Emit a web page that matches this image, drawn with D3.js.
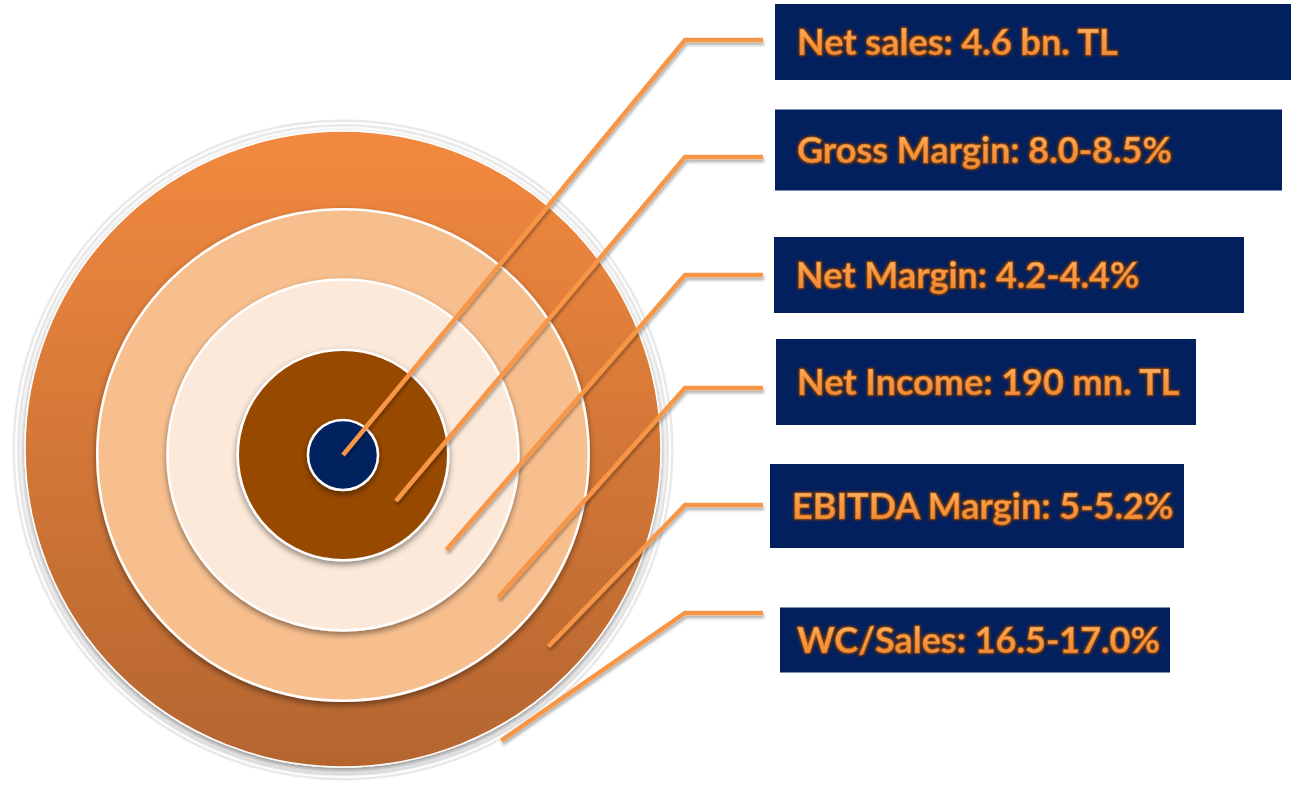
<!DOCTYPE html>
<html>
<head>
<meta charset="utf-8">
<script src="https://cdn.jsdelivr.net/npm/d3@7"></script>
<style>
  body { margin: 0; background: #ffffff; }
  svg { display: block; }
  .label { font-family: Lato, "Open Sans", sans-serif; font-weight: 700; }
</style>
</head>
<body>
<svg id="chart" width="1291" height="796"></svg>
<script>
// target data: one label per ring
const labels = [
    "Net sales: 4.6 bn. TL",
    "Gross Margin: 8.0-8.5%",
    "Net Margin: 4.2-4.4%",
    "Net Income: 190 mn. TL",
    "EBITDA Margin: 5-5.2%",
    "WC/Sales: 16.5-17.0%"
];
// ring levels, outermost first
const ringLevels = [4, 3, 2, 1, 0];
const ringColors = ["url(#outerGrad)", "#f8bf8e", "#fce9da", "#974806", "#02205e"];
// where each leader line starts (ring level) and its angle below horizontal (deg)
const anchorLevels = [-0.52, 0.5, 1.5, 2.5, 3.5, 4.15];
const anchorAngles = [41, 41, 42.5, 42.5, 43, 61];
// callout boxes: vertical centre, height, left, right
const boxCenter = [42, 150, 275, 382, 506, 640];
const boxHeight = [76, 81, 76, 86, 84, 65];
const boxLeft = [775, 775, 774, 776, 770, 780];
const boxRight = [1291, 1282, 1244, 1196, 1184, 1170];
const elbowY = [40, 157, 275, 388, 505, 613];

const svg = d3.select("#chart");
const defs = svg.append("defs");

let grad = defs.append("linearGradient").attr("id", "outerGrad")
    .attr("x1", 0).attr("y1", 0).attr("x2", 0).attr("y2", 1);
grad.append("stop").attr("offset", "0%").attr("stop-color", "#f2893f");
grad.append("stop").attr("offset", "100%").attr("stop-color", "#b4652f");

let tgrad = defs.append("linearGradient").attr("id", "textGrad")
    .attr("x1", 0).attr("y1", 0).attr("x2", 0).attr("y2", 1);
tgrad.append("stop").attr("offset", "0%").attr("stop-color", "#ffcf80");
tgrad.append("stop").attr("offset", "40%").attr("stop-color", "#f99c48");
tgrad.append("stop").attr("offset", "100%").attr("stop-color", "#ee8530");

let shadow = defs.append("filter").attr("id", "shadow")
    .attr("x", "-20%").attr("y", "-20%").attr("width", "140%").attr("height", "140%");
shadow.append("feDropShadow").attr("dx", 0).attr("dy", 3).attr("stdDeviation", 3)
    .attr("flood-color", "#000").attr("flood-opacity", 0.45);

let lineShadow = defs.append("filter").attr("id", "lineShadow")
    .attr("x", "-10%").attr("y", "-10%").attr("width", "120%").attr("height", "130%");
lineShadow.append("feDropShadow").attr("dx", 1).attr("dy", 3).attr("stdDeviation", 1.5)
    .attr("flood-color", "#000").attr("flood-opacity", 0.3);

let glow = defs.append("filter").attr("id", "glow")
    .attr("x", "-5%").attr("y", "-20%").attr("width", "110%").attr("height", "140%");
glow.append("feMorphology").attr("in", "SourceAlpha").attr("operator", "dilate").attr("radius", 1).attr("result", "d");
glow.append("feGaussianBlur").attr("in", "d").attr("stdDeviation", 1).attr("result", "b");
glow.append("feFlood").attr("flood-color", "#7a3a08").attr("flood-opacity", 0.9);
glow.append("feComposite").attr("in2", "b").attr("operator", "in").attr("result", "g");
let gm = glow.append("feMerge");
gm.append("feMergeNode").attr("in", "g");
gm.append("feMergeNode").attr("in", "SourceGraphic");

// radius scale: ring level -> pixels
const r = d3.scaleLinear().domain([0, 4]).range([35, 316]);
const cx = 343, cy = 455;

// faint halo around the target
svg.append("circle").attr("cx", cx).attr("cy", cy - 5).attr("r", r(4) + 11)
    .attr("fill", "none").attr("stroke", "#e9e9e9").attr("stroke-width", 7);
svg.append("circle").attr("cx", cx).attr("cy", cy - 5).attr("r", r(4) + 11)
    .attr("fill", "none").attr("stroke", "#ffffff").attr("stroke-width", 2);

// rings
svg.selectAll("circle.ring")
    .data(ringLevels)
    .enter().append("circle")
    .attr("class", "ring")
    .attr("cx", cx)
    .attr("cy", (d, i) => i === 0 ? cy - 6 : cy)
    .attr("r", (d, i) => i === 0 ? r(d) + 2 : r(d))
    .attr("fill", (d, i) => ringColors[i])
    .attr("stroke", "#ffffff")
    .attr("stroke-width", (d, i) => i === 0 ? 1.5 : 2.5)
    .attr("filter", "url(#shadow)");

// leader lines: anchor -> elbow -> box
const elbowX = 685, endX = 763;
svg.selectAll("polyline.leader")
    .data(labels)
    .enter().append("polyline")
    .attr("class", "leader")
    .attr("points", function(d, i) {
        let rad = Math.max(0, r(anchorLevels[i]));
        let a = anchorAngles[i] * Math.PI / 180;
        let x0 = cx + rad * Math.cos(a);
        let y0 = cy + rad * Math.sin(a);
        return x0 + "," + y0 + " " + elbowX + "," + elbowY[i] + " " + endX + "," + elbowY[i];
    })
    .attr("fill", "none")
    .attr("stroke", "#f79646")
    .attr("stroke-width", 4.5)
    .attr("filter", "url(#lineShadow)");

// callout boxes
svg.selectAll("rect.box")
    .data(labels)
    .enter().append("rect")
    .attr("class", "box")
    .attr("x", (d, i) => boxLeft[i])
    .attr("y", (d, i) => boxCenter[i] - boxHeight[i] / 2)
    .attr("width", (d, i) => boxRight[i] - boxLeft[i])
    .attr("height", (d, i) => boxHeight[i])
    .attr("fill", "#021f5e");

svg.selectAll("text.label")
    .data(labels)
    .enter().append("text")
    .attr("class", "label")
    .attr("x", (d, i) => Math.min(boxLeft[i] + 22, 797))
    .attr("y", (d, i) => boxCenter[i] + 13)
    .attr("font-size", 36)
    .attr("fill", "url(#textGrad)")
    .attr("stroke", "#c86a1c")
    .attr("stroke-width", 0.6)
    .attr("filter", "url(#glow)")
    .text(d => d);
</script>
</body>
</html>
